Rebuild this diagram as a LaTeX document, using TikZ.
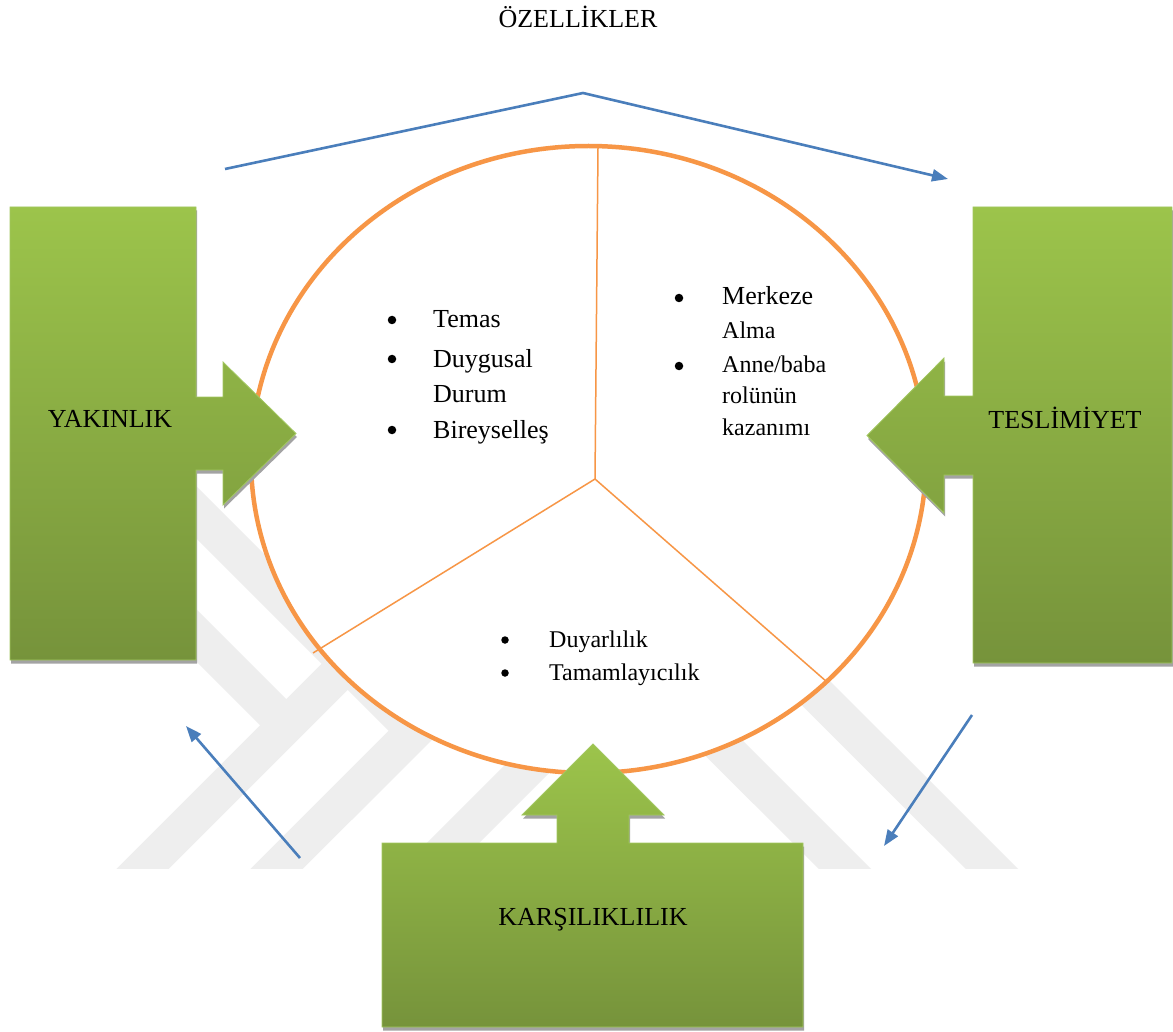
\documentclass[tikz,border=0pt]{standalone}
\usepackage{fontspec}
\setmainfont{Liberation Serif}
\usetikzlibrary{shapes.geometric,arrows.meta,shadows}
\definecolor{orng}{HTML}{F79646}
\definecolor{blu}{HTML}{4A7EBB}
\definecolor{gtop}{HTML}{9CC44B}
\definecolor{gbot}{HTML}{76933B}
\definecolor{wm}{HTML}{EEEEEE}
\definecolor{gedge}{HTML}{A2C760}
\tikzset{
  greenshape/.style={top color=gtop, bottom color=gbot, draw=gedge, line width=0.8pt,
    drop shadow={shadow xshift=1pt, shadow yshift=-3.5pt, fill=black!36, opacity=1}},
  lbl/.style={font=\fontsize{26}{30}\selectfont, anchor=base, inner sep=0pt},
  txtbig/.style={font=\fontsize{26}{30}\selectfont, anchor=base west, inner sep=0pt},
  txtsmall/.style={font=\fontsize{24}{28}\selectfont, anchor=base west, inner sep=0pt},
  dotbig/.style={circle, fill=black, inner sep=0pt, minimum size=8.5pt},
  dotsmall/.style={circle, fill=black, inner sep=0pt, minimum size=7.5pt},
  conn/.style={draw=blu, line width=2.6pt, -{Triangle[length=16pt,width=12pt]}},
  spoke/.style={draw=orng, line width=1.5pt},
  band/.style={draw=wm, line width=37pt},
}
\begin{document}
\begin{tikzpicture}[x=1pt,y=-1pt]
\useasboundingbox (0,0) rectangle (1173,1032);
\fill[white] (0,0) rectangle (1173,1032);

% watermark
\begin{scope}
  \clip (0,0) rectangle (1173,868);
  \draw[band] (103.5,908) -- (567,444.5) -- (1031,908);
  \draw[band] (237.5,908) -- (560.75,585) -- (884,908);
  \draw[band] (388,908) -- (620,676);
  \draw[band] (100,539) -- (286,725);
  \draw[band] (100,416) -- (415,731);
\end{scope}

% title
\node[lbl] (title) at (578,28) {ÖZELLİKLER};

% ellipse and spokes
\node[draw=orng, line width=4.5pt, fill=white, ellipse, minimum width=675pt,
      minimum height=627pt, inner sep=0pt] (circ) at (588.5,459.5) {};
\coordinate (hub) at (595,479);
\coordinate (sTop) at (598,148);
\coordinate (sLeft) at (313,653);
\coordinate (sRight) at (827,682);
\draw[spoke] (hub) -- (sTop);
\draw[spoke] (hub) -- (sLeft);
\draw[spoke] (hub) -- (sRight);

% left list
\node[dotbig] (b1) at (392,320) {};
\node[txtbig] (t1) at (433,328) {Temas};
\node[dotbig] (b2) at (392,359) {};
\node[txtbig] (t2) at (433,367) {Duygusal};
\node[txtbig] (t3) at (433,402) {Durum};
\node[dotbig] (b4) at (392,430) {};
\node[txtbig] (t4) at (433,438) {Bireyselleş};

% right list
\node[dotbig] (r1b) at (679,298) {};
\node[txtbig] (r1) at (722,305) {Merkeze};
\node[txtsmall] (r2) at (722,338) {Alma};
\node[dotbig] (r3b) at (679,366) {};
\node[txtsmall] (r3) at (722,372) {Anne/baba};
\node[txtsmall] (r4) at (722,403) {rolünün};
\node[txtsmall] (r5) at (722,435) {kazanımı};

% bottom list
\node[dotsmall] (d1b) at (505,640) {};
\node[txtsmall] (d1) at (549,647) {Duyarlılık};
\node[dotsmall] (d2b) at (505,673) {};
\node[txtsmall] (d2) at (549,680) {Tamamlayıcılık};

% blue connectors
\coordinate (topL) at (225,169);
\coordinate (topM) at (583,93);
\coordinate (topR) at (948,179);
\draw[conn] (topL) -- (topM) -- (topR);
\coordinate (llS) at (300,858);
\coordinate (llE) at (186,726);
\draw[conn] (llS) -- (llE);
\coordinate (lrS) at (972,715);
\coordinate (lrE) at (884,846);
\draw[conn] (lrS) -- (lrE);

% green shapes
\path[greenshape] (10,207) -- (196,207) -- (196,397) -- (223,397) -- (223,362)
  -- (296,433.5) -- (223,505) -- (223,470) -- (196,470) -- (196,660) -- (10,660) -- cycle;
\path[greenshape] (973,207) -- (1172,207) -- (1172,663) -- (973,663) -- (973,475)
  -- (944,475) -- (944,513) -- (867,435.5) -- (944,358) -- (944,396) -- (973,396) -- cycle;
\path[greenshape] (382,843) -- (557,843) -- (557,815) -- (522,815) -- (593,744)
  -- (664,815) -- (629,815) -- (629,843) -- (803,843) -- (803,1027) -- (382,1027) -- cycle;

\node[lbl] (yak) at (110,427) {YAKINLIK};
\node[lbl] (tes) at (1065,428) {TESLİMİYET};
\node[lbl] (kar) at (593,925) {KARŞILIKLILIK};
\end{tikzpicture}
\end{document}
